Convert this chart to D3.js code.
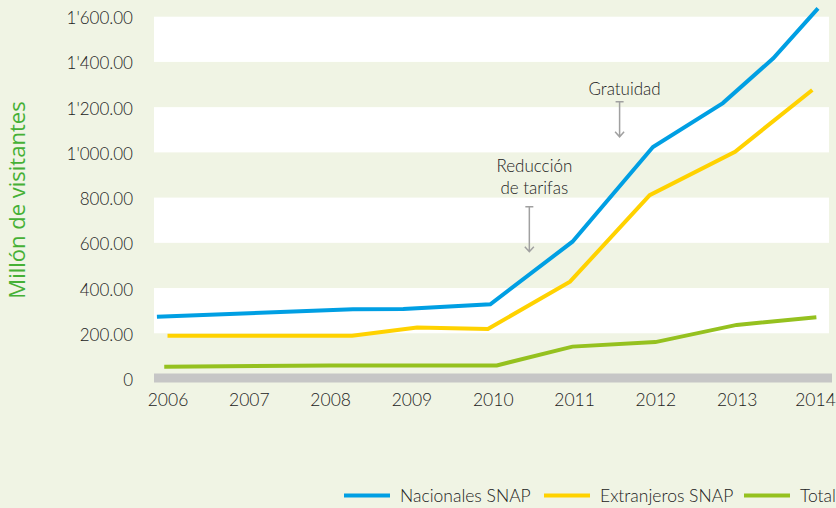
<!DOCTYPE html>
<html>
<head>
<meta charset="utf-8">
<script src="https://cdn.jsdelivr.net/npm/d3@7"></script>
<style>
  html, body { margin: 0; padding: 0; background: #f0f4e4; }
  svg { display: block; }
  text { font-family: Lato, "Open Sans", sans-serif; font-weight: 300; }
</style>
</head>
<body>
<svg id="chart" width="836" height="508"></svg>
<script>
// ---- data ----
const years = [2006, 2007, 2008, 2009, 2010, 2011, 2012, 2013, 2014];
const yTicks = [0, 200, 400, 600, 800, 1000, 1200, 1400, 1600];
const seriesNames = ["Nacionales SNAP", "Extranjeros SNAP", "Total"];
const seriesColors = ["#009fe3", "#ffd200", "#95c11f"];

const nacionalesX = [2005.87, 2008.28, 2008.9, 2009.97, 2010.98, 2011.97, 2012.83, 2013.45, 2014.0];
const nacionalesY = [273, 306, 307, 328, 605, 1024, 1218, 1416, 1637];
const extranjerosX = [2006.0, 2008.27, 2009.07, 2009.94, 2010.95, 2011.93, 2012.98, 2013.93];
const extranjerosY = [189, 189, 225, 219, 428, 811, 1003, 1276];
const totalX = [2005.96, 2008.0, 2010.05, 2010.98, 2012.0, 2013.0, 2013.98];
const totalY = [52, 58, 58, 141, 161, 237, 271];

const annotationLabels = [["Gratuidad"], ["Reducción", "de tarifas"]];
const annotationYears = [2011.56, 2010.45];
const annotationFrom = [1224, 760];
const annotationTo = [1069, 561];
const yTitle = "Millón de visitantes";

// ---- layout ----
const svg = d3.select("#chart");
const textColor = "#222222";
const plotLeft = 154, plotRight = 829;
const x = d3.scaleLinear().domain([2006, 2014]).range([167.5, 818]);
const y = d3.scaleLinear().domain([0, 1600]).range([378.5, 16.7]);

// alternating white bands
const bands = [[200, 400], [600, 800], [1000, 1200], [1400, 1600]];
svg.append("g").selectAll("rect").data(bands).join("rect")
  .attr("x", plotLeft).attr("width", plotRight - plotLeft)
  .attr("y", d => y(d[1])).attr("height", d => y(d[0]) - y(d[1]))
  .attr("fill", "#ffffff");

// baseline gray bar
svg.append("rect")
  .attr("x", plotLeft).attr("width", 832 - plotLeft)
  .attr("y", y(0) - 5).attr("height", 9)
  .attr("fill", "#c6c6c6");

// y axis
const fmt = v => v === 0 ? "0" : d3.format(",.2f")(v).replace(/,/g, "'");
const yAxis = d3.axisLeft(y).tickValues(yTicks).tickFormat(fmt).tickSize(0).tickPadding(0);
const gy = svg.append("g").attr("transform", "translate(133,1.5)").call(yAxis);
gy.select(".domain").remove();
gy.selectAll("text").attr("font-size", 17).attr("fill", textColor)
  .style("font-family", "Lato, sans-serif").style("font-weight", 300);

// x axis
const xAxis = d3.axisBottom(x).tickValues(years).tickFormat(d3.format("d")).tickSize(0).tickPadding(0);
const gx = svg.append("g").attr("transform", "translate(0,394)").call(xAxis);
gx.select(".domain").remove();
gx.selectAll("text").attr("font-size", 17.5).attr("fill", textColor)
  .style("font-family", "Lato, sans-serif").style("font-weight", 300);
gx.selectAll(".tick:last-of-type text").attr("dx", -3);

// y title
svg.append("text")
  .attr("transform", "translate(25,200) rotate(-90)")
  .attr("text-anchor", "middle")
  .attr("font-size", 22)
  .attr("fill", "#45b035")
  .style("font-family", "'Open Sans', sans-serif")
  .style("font-weight", 400)
  .text(yTitle);

// lines
const seriesData = [
  totalX.map((v, i) => [v, totalY[i]]),
  extranjerosX.map((v, i) => [v, extranjerosY[i]]),
  nacionalesX.map((v, i) => [v, nacionalesY[i]])
];
const colorsDraw = [seriesColors[2], seriesColors[1], seriesColors[0]];
const line = d3.line().x(d => x(d[0])).y(d => y(d[1]));
svg.append("g").selectAll("path").data(seriesData).join("path")
  .attr("d", line)
  .attr("fill", "none")
  .attr("stroke", (d, i) => colorsDraw[i])
  .attr("stroke-width", 4);

// annotations
const ag = svg.append("g");
const labelGap = [7, 13];
annotationLabels.forEach((lines, k) => {
  const ax = x(annotationYears[k]);
  const y1 = y(annotationFrom[k]), y2 = y(annotationTo[k]);
  const t = ag.append("text").attr("text-anchor", "middle")
    .attr("font-size", 17).attr("fill", textColor);
  lines.forEach((l, i) => {
    t.append("tspan").attr("x", ax + 5)
      .attr("y", y1 - labelGap[k] - (lines.length - 1 - i) * 21.5).text(l);
  });
  ag.append("path")
    .attr("d", `M${ax - 4},${y1}H${ax + 4}M${ax},${y1}V${y2}M${ax - 4.5},${y2 - 5}L${ax},${y2}L${ax + 4.5},${y2 - 5}`)
    .attr("stroke", "#a0a0a0").attr("stroke-width", 1.5).attr("fill", "none");
});

// legend
const legendX = [344, 544, 744];
const lg = svg.append("g");
seriesNames.forEach((n, i) => {
  lg.append("line").attr("x1", legendX[i]).attr("x2", legendX[i] + 46)
    .attr("y1", 495.5).attr("y2", 495.5)
    .attr("stroke", seriesColors[i]).attr("stroke-width", 4);
  lg.append("text").attr("x", legendX[i] + 56).attr("y", 502)
    .attr("font-size", 17.5).attr("fill", textColor).text(n);
});
</script>
</body>
</html>
